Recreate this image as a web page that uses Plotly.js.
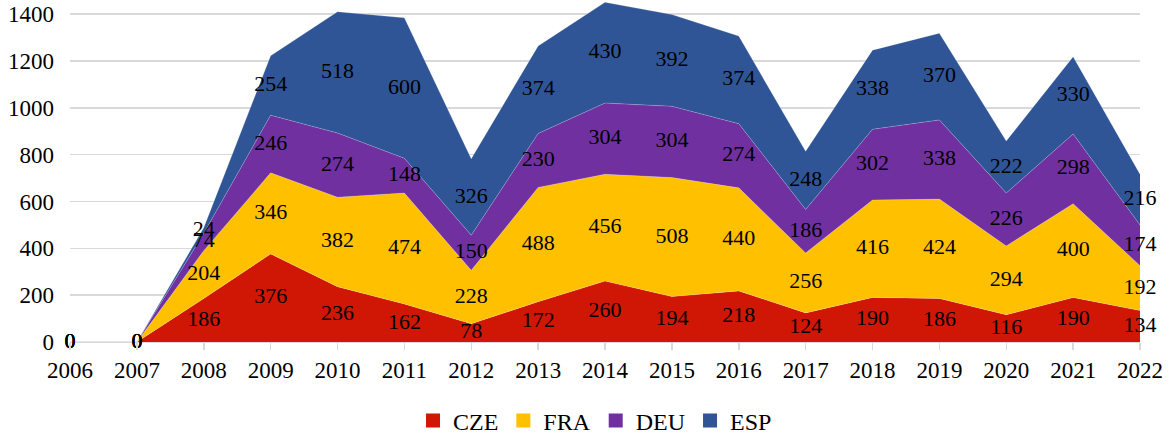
<!DOCTYPE html>
<html>
<head>
<meta charset="utf-8">
<script src="https://cdn.plot.ly/plotly-3.0.1.min.js"></script>
<style>html,body{margin:0;padding:0;background:#fff;}#chart{width:1169px;height:434px;}</style>
</head>
<body>
<div id="chart"></div>
<script>
const years = [2006,2007,2008,2009,2010,2011,2012,2013,2014,2015,2016,2017,2018,2019,2020,2021,2022];
const seriesNames = ["CZE","FRA","DEU","ESP"];
const CZE = [0,0,186,376,236,162,78,172,260,194,218,124,190,186,116,190,134];
const FRA = [0,0,204,346,382,474,228,488,456,508,440,256,416,424,294,400,192];
const DEU = [0,0,74,246,274,148,150,230,304,304,274,186,302,338,226,298,174];
const ESP = [0,0,24,254,518,600,326,374,430,392,374,248,338,370,222,330,216];
const colors = ["#D01605","#FFC000","#7030A0","#2F5597"];
const series = [CZE,FRA,DEU,ESP];

const FAM = "Liberation Serif";
const traces = [];
series.forEach((vals,i)=>{
  traces.push({
    x: years, y: vals, name: seriesNames[i], type:'scatter', mode:'lines',
    stackgroup:'one', fillcolor: colors[i],
    line:{width:0.6, color:'rgba(255,255,255,0.35)'},
    hoverinfo:'skip', showlegend:false
  });
});
const cum = years.map(()=>0);
series.forEach((vals,i)=>{
  const ys = vals.map((v,k)=>cum[k] + v/2);
  vals.forEach((v,k)=>{cum[k]+=v;});
  traces.push({
    x: years, y: ys, text: vals.map(String), mode:'text', type:'scatter',
    textfont:{family:FAM, size:22}, showlegend:false, hoverinfo:'skip',
    cliponaxis:false
  });
});
series.forEach((vals,i)=>{
  traces.push({
    x:[null], y:[null], name: seriesNames[i], type:'scatter', mode:'markers',
    marker:{symbol:'square', size:14, color:colors[i]}, showlegend:true, hoverinfo:'skip'
  });
});

const layout = {
  width:1169, height:434,
  margin:{l:70, r:29, t:0, b:92},
  paper_bgcolor:'#fff', plot_bgcolor:'#fff',
  font:{family:FAM, size:22, color:'#000000'},
  xaxis:{
    range:[2006,2022], tickvals:years, ticktext:years.map(String),
    showgrid:false, zeroline:false, showline:false,
    ticks:'outside', ticklen:7, tickcolor:'#d9d9d9', tickwidth:1.5,
    tickfont:{size:23}, ticklabelstandoff:0, fixedrange:true, automargin:false
  },
  yaxis:{
    range:[0,1460], tickvals:[0,200,400,600,800,1000,1200,1400], showgrid:true, gridcolor:'#d9d9d9', gridwidth:1.5,
    zeroline:true, zerolinecolor:'#d9d9d9', zerolinewidth:1.5, showline:false,
    tickfont:{size:23}, ticklabelstandoff:15, fixedrange:true, automargin:false
  },
  legend:{orientation:'h', x:0.509, xref:'container', xanchor:'center', yref:'container', y:0.03, yanchor:'middle',
    font:{size:24}, traceorder:'normal', itemwidth:30},
  showlegend:true
};
Plotly.newPlot('chart', traces, layout, {displayModeBar:false, staticPlot:true});
</script>
</body>
</html>
